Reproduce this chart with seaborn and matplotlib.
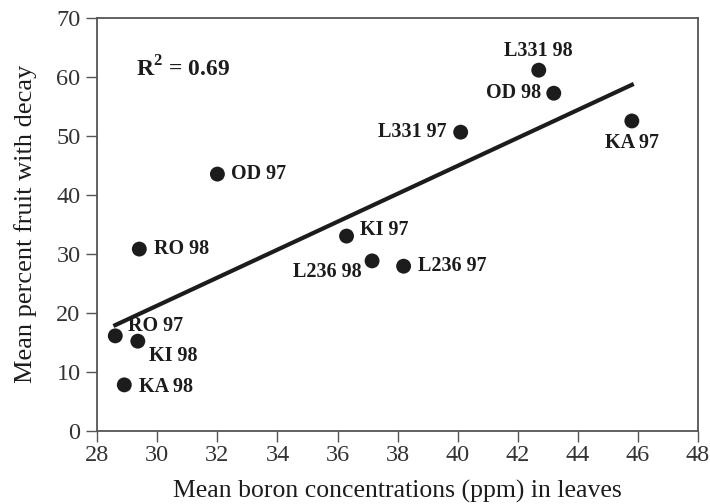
import numpy as np
import pandas as pd
import seaborn as sns
import matplotlib.pyplot as plt

# Datos
labels = ['RO 97', 'KI 98', 'KA 98', 'RO 98', 'OD 97', 'KI 97',
          'L236 98', 'L236 97', 'L331 97', 'L331 98', 'OD 98', 'KA 97']
boron = [28.6, 29.35, 28.9, 29.4, 32.0, 36.3, 37.15, 38.2, 40.1, 42.7, 43.2, 45.8]
decay = [16.1, 15.2, 7.8, 30.8, 43.5, 33.0, 28.8, 27.9, 50.6, 61.1, 57.2, 52.5]

# desplazamiento de las etiquetas (pixeles) y alineación
label_offsets = {
    'RO 97': (13, 10, 'left'),
    'KI 98': (11, -15, 'left'),
    'KA 98': (15, -2, 'left'),
    'RO 98': (15, 0, 'left'),
    'OD 97': (14, 0, 'left'),
    'KI 97': (13, 6, 'left'),
    'L236 98': (-10, -11, 'right'),
    'L236 97': (14, 0, 'left'),
    'L331 97': (-14, 0, 'right'),
    'L331 98': (0, 19, 'center'),
    'OD 98': (-13, 0, 'right'),
    'KA 97': (0, -22, 'center'),
}

df = pd.DataFrame({'label': labels, 'boron': boron, 'decay': decay})

plt.rcParams['font.family'] = ['Liberation Serif', 'DejaVu Serif']
plt.rcParams['mathtext.fontset'] = 'custom'
plt.rcParams['mathtext.rm'] = 'Liberation Serif'
plt.rcParams['mathtext.bf'] = 'Liberation Serif:bold'
dark = '#1c1c1c'
spine_color = '#555555'

fig, ax = plt.subplots(figsize=(7.1, 5.04), dpi=100)

sns.regplot(data=df, x='boron', y='decay', ax=ax, ci=None, truncate=True,
            scatter_kws={'s': 115, 'color': dark, 'edgecolor': 'none', 'alpha': 1},
            line_kws={'color': dark, 'linewidth': 3})

for lab, x, y in zip(labels, boron, decay):
    dx, dy, ha = label_offsets[lab]
    ax.annotate(lab, (x, y), xytext=(dx, dy), textcoords='offset pixels',
                ha=ha, va='center', fontsize=14.5, fontweight='bold', color=dark)

ax.text(29.3, 61.3, r'R$^\mathbf{2}$ = 0.69', fontsize=17, fontweight='bold',
        color=dark, ha='left', va='center')

ax.set_xlim(28, 48)
ax.set_ylim(0, 70)
ax.set_xticks(range(28, 49, 2))
ax.set_yticks(range(0, 71, 10))
ax.set_xlabel('Mean boron concentrations (ppm) in leaves', fontsize=18.5, labelpad=10, color=dark)
ax.set_ylabel('Mean percent fruit with decay', fontsize=19, labelpad=14, color=dark)
ax.tick_params(axis='both', direction='out', length=8, width=1, color=spine_color,
               labelsize=17.5, labelcolor='#333333')
ax.tick_params(axis='x', pad=2)
ax.tick_params(axis='y', pad=4)
for s in ax.spines.values():
    s.set_color(spine_color)
    s.set_linewidth(1.3)

fig.subplots_adjust(left=0.137, right=0.983, top=0.965, bottom=0.145)
plt.savefig('out.png', dpi=100)
plt.close()
